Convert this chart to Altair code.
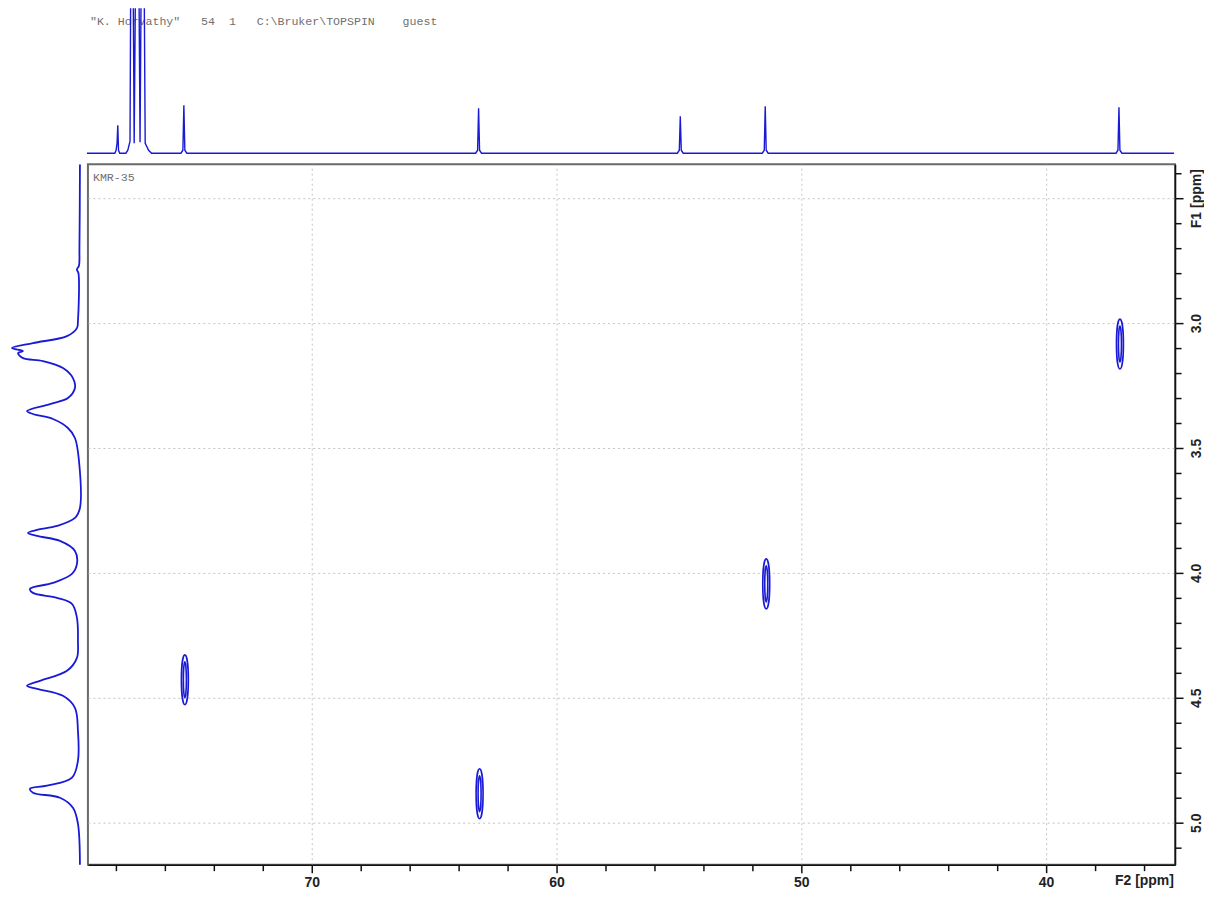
import altair as alt
import pandas as pd

# ---------------- data ----------------
# F2 (13C) axis range and F1 (1H) axis range, in ppm
f2_range = [34.73, 79.14]
f1_range = [2.364, 5.168]

# 13C projection on top: ppm and intensity (arbitrary units, px-like)
c13_ppm = [79.14, 78.00, 77.95, 77.91, 77.88, 77.85, 77.80,
           77.55, 77.47, 77.38, 77.31, 77.21, 77.08, 76.97, 76.86, 76.76, 76.62, 76.50,
           75.30, 75.22, 75.18, 75.14, 75.06,
           63.26, 63.18, 63.14, 63.10, 63.02,
           55.02, 54.94, 54.90, 54.86, 54.78,
           51.55, 51.47, 51.43, 51.39, 51.31,
           37.10, 37.02, 36.98, 36.94, 36.86,
           34.73]
c13_int = [0, 0, 3, 10, 28, 3, 0,
           0, 3, 12, 400, 10, 400, 11, 400, 10, 3, 0,
           0, 3, 48, 3, 0,
           0, 3, 45, 3, 0,
           0, 3, 37, 3, 0,
           0, 3, 47, 3, 0,
           0, 3, 46, 3, 0,
           0]

# 1H projection on the left: ppm and intensity (arbitrary units)
h1_ppm = [2.364, 2.70, 2.77, 2.785, 2.80, 2.99, 3.02, 3.052, 3.08, 3.10,
          3.112, 3.12, 3.14, 3.152, 3.18, 3.22, 3.26, 3.30, 3.324, 3.352,
          3.364, 3.384, 3.42, 3.46, 3.55, 3.74, 3.78, 3.812, 3.828, 3.84,
          3.852, 3.872, 3.912, 3.964, 4.004, 4.04, 4.064, 4.08, 4.10, 4.124,
          4.18, 4.272, 4.34, 4.392, 4.432, 4.452, 4.464, 4.492, 4.54, 4.632,
          4.752, 4.82, 4.852, 4.864, 4.88, 4.90, 4.94, 5.004, 5.18]
h1_int = [0, 0.5, 1, 3, 1.5, 2, 3, 13, 47, 68,
          57, 62, 57, 37, 17, 7, 5, 12, 30, 53,
          47, 27, 12, 5, 1, 0, 5, 23, 43, 52,
          43, 20, 5, 3, 8, 27, 50, 47, 23, 8,
          3, 2, 3, 13, 40, 53, 43, 17, 5, 2,
          2, 8, 33, 50, 47, 20, 7, 2, 0]

# HSQC cross peaks (13C ppm, 1H ppm)
cross_c13 = [75.18, 63.14, 51.43, 36.98]
cross_h1 = [4.428, 4.884, 4.044, 3.084]

# tick positions
x_tick_values = list(range(36, 80, 2))
y_tick_values = [round(2.4 + 0.1 * i, 1) for i in range(28)]

NB = "\u00a0"
header_text = ('"K. Horvathy"' + NB * 3 + "54" + NB * 2 + "1" + NB * 3
               + "C:\\Bruker\\TOPSPIN" + NB * 4 + "guest")
sample_text = "KMR-35"

# ---------------- styling ----------------
BLUE = "#1a1ad6"
W_MAIN, H_MAIN = 1088, 701
W_SIDE, H_TOP = 74, 150
LABEL_FONT = "Liberation Sans"
MONO = "Liberation Mono"

df_top = pd.DataFrame({"ppm": c13_ppm, "int": c13_int})
df_left = pd.DataFrame({"ppm": h1_ppm, "int": h1_int})
df_cross = pd.DataFrame({"c13": cross_c13, "h1": cross_h1})

x_scale = alt.Scale(domain=f2_range, reverse=True, nice=False, zero=False)
y_scale = alt.Scale(domain=f1_range, reverse=True, nice=False, zero=False)

# ---- top 13C projection ----
top_line = alt.Chart(df_top).mark_line(color=BLUE, strokeWidth=1.4, clip=True).encode(
    x=alt.X("ppm:Q", scale=x_scale, axis=None),
    y=alt.Y("int:Q", scale=alt.Scale(domain=[-5, 145], nice=False, zero=False), axis=None),
    order=alt.Order("ppm:Q", sort="descending"),
)
header = alt.Chart(pd.DataFrame({"t": [header_text]})).mark_text(
    align="left", baseline="middle", font=MONO, fontSize=11.6, color="#707070"
).encode(text="t:N", x=alt.value(3), y=alt.value(14))
top_chart = alt.layer(header, top_line).properties(
    width=W_MAIN, height=H_TOP, view=alt.ViewBackground(stroke=None)
)

corner = alt.Chart(pd.DataFrame({"t": [""]})).mark_text(baseline="middle", fontSize=8).encode(
    text="t:N", x=alt.value(W_SIDE / 2), y=alt.value(H_TOP / 2)
).properties(width=W_SIDE, height=H_TOP, view=alt.ViewBackground(stroke=None))

# ---- left 1H projection ----
left_chart = alt.Chart(df_left).mark_line(
    color=BLUE, strokeWidth=1.8, clip=True, interpolate="catmull-rom"
).encode(
    y=alt.Y("ppm:Q", scale=y_scale, axis=None),
    x=alt.X("int:Q", scale=alt.Scale(domain=[-2, 72], reverse=True, nice=False, zero=False), axis=None),
    order=alt.Order("ppm:Q"),
).properties(width=W_SIDE, height=H_MAIN, view=alt.ViewBackground(stroke=None))

# ---- main 2D plot ----
x_major = "datum.value % 10 === 0"
y_major = "abs(datum.value * 2 - round(datum.value * 2)) < 0.001"

x_axis = alt.Axis(
    values=x_tick_values,
    orient="bottom",
    labelExpr="datum.value === 36 ? 'F2 [ppm]' : (datum.value % 10 === 0 ? datum.label : '')",
    labelOverlap=False, labelFlush=False,
    labelFont=LABEL_FONT, labelFontSize=14, labelFontWeight="bold", labelColor="#222",
    labelBaseline="top", labelPadding=3,
    tickColor="#111", tickWidth=1.5,
    tickSize={"condition": {"test": x_major, "value": 8}, "value": 6},
    grid=True, gridColor="#c4c4c4", gridDash=[2, 3], gridWidth=1,
    gridOpacity={"condition": {"test": x_major, "value": 1}, "value": 0},
    domainColor="#111", domainWidth=1.5,
    title=None,
)
y_axis = alt.Axis(
    values=y_tick_values,
    orient="right",
    labelExpr=("abs(datum.value - 2.5) < 0.001 ? 'F1 [ppm]' : ("
               + y_major + " ? format(datum.value, '.1f') : '')"),
    labelOverlap=False, labelFlush=False,
    labelAngle=270, labelAlign="center", labelBaseline="top", labelPadding=6,
    labelFont=LABEL_FONT, labelFontSize=14, labelFontWeight="bold", labelColor="#222",
    tickColor="#111", tickWidth=1.5,
    tickSize={"condition": {"test": y_major, "value": 8}, "value": 6},
    grid=True, gridColor="#c4c4c4", gridDash=[2, 3], gridWidth=1,
    gridOpacity={"condition": {"test": y_major, "value": 1}, "value": 0},
    domainColor="#111", domainWidth=1.5,
    title=None,
)

ELLIPSE = ("M0,-1 A0.14,1 0 1,1 0,1 A0.14,1 0 1,1 0,-1 Z "
           "M0,-0.72 A0.06,0.72 0 1,1 0,0.72 A0.06,0.72 0 1,1 0,-0.72 Z")

peaks = alt.Chart(df_cross).mark_point(
    shape=ELLIPSE, size=2500, filled=False, color=BLUE, strokeWidth=1.6, opacity=1
).encode(
    x=alt.X("c13:Q", scale=x_scale, axis=x_axis),
    y=alt.Y("h1:Q", scale=y_scale, axis=y_axis),
)
sample = alt.Chart(pd.DataFrame({"t": [sample_text]})).mark_text(
    align="left", baseline="middle", font=MONO, fontSize=11.6, color="#707070"
).encode(text="t:N", x=alt.value(5), y=alt.value(14))

main_chart = alt.layer(peaks, sample).properties(
    width=W_MAIN, height=H_MAIN,
    view=alt.ViewBackground(stroke="#6a6a6a", strokeWidth=2),
)

chart = alt.vconcat(
    alt.hconcat(corner, top_chart, spacing=5),
    alt.hconcat(left_chart, main_chart, spacing=5),
    spacing=5,
).properties(padding=0, background="white").configure_view(stroke=None)

chart.save("out.html", embed_options={"renderer": "svg", "actions": False})
